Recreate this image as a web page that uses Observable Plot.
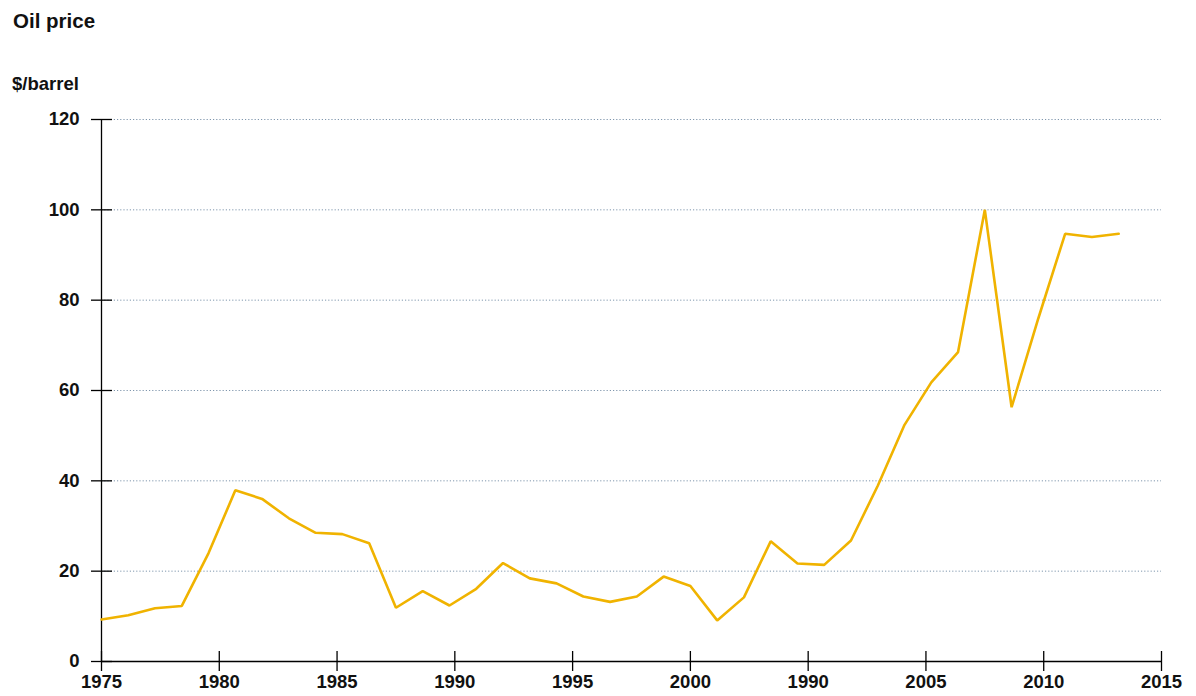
<!DOCTYPE html>
<html>
<head>
<meta charset="utf-8">
<script src="https://cdn.jsdelivr.net/npm/d3@7"></script>
<script src="https://cdn.jsdelivr.net/npm/@observablehq/plot@0.6"></script>
<style>
  html, body { margin: 0; padding: 0; background: #fff; }
  body { width: 1196px; height: 696px; position: relative; overflow: hidden; font-family: "Liberation Sans", Arial, sans-serif; }
  .title { position: absolute; left: 13px; top: 11px; font-size: 20.5px; line-height: 20px; font-weight: bold; color: #111; }
  .unit { position: absolute; left: 12px; top: 75px; font-size: 18.5px; line-height: 18px; font-weight: bold; color: #111; }
  #chart { position: absolute; left: 0; top: 100px; }
</style>
</head>
<body>
<div class="title">Oil price</div>
<div class="unit">$/barrel</div>
<div id="chart"></div>
<script>
// Data
const years = d3.range(1975, 2014);
const prices = [
  9.3, 10.25, 11.8, 12.3, 24.0, 37.9, 36.0, 31.7, 28.5, 28.2,
  26.2, 11.9, 15.6, 12.4, 16.1, 21.8, 18.4, 17.3, 14.4, 13.2,
  14.4, 18.8, 16.7, 9.1, 14.2, 26.6, 21.7, 21.4, 26.8, 38.9,
  52.4, 61.8, 68.5, 100.0, 56.3, 76.0, 94.7, 94.0, 94.7
];
const xTickLabels = ["1975", "1980", "1985", "1990", "1995", "2000", "1990", "2005", "2010", "2015"];
const yTicks = [0, 20, 40, 60, 80, 100, 120];
const gridValues = [20, 40, 60, 80, 100, 120];

const data = years.map((y, i) => ({year: y, price: prices[i]}));
const xStep = 4.4;
const xTicks = xTickLabels.map((_, i) => 1975 + i * xStep);

const plot = Plot.plot({
  width: 1196,
  height: 596,
  marginTop: 19,
  marginBottom: 35,
  marginLeft: 101,
  marginRight: 35,
  style: { fontFamily: "'Liberation Sans', Arial, sans-serif", fontSize: "18.5px", fontWeight: "bold", color: "#111", background: "transparent" },
  x: { domain: [1975, 1975 + 9 * xStep] },
  y: { domain: [0, 120] },
  marks: [
    Plot.ruleY(gridValues, { stroke: "#7f96ad", strokeWidth: 1, strokeDasharray: "1.2,2" }),
    Plot.ruleY([0], { stroke: "#000", strokeWidth: 1.3 }),
    Plot.ruleX([1975], { stroke: "#000", strokeWidth: 1.3 }),
    Plot.axisY({ ticks: yTicks, tickSize: 21, dx: 11, tickPadding: 12, fontSize: 18.5, label: null, stroke: "#000", strokeWidth: 1.3, fill: "#111", tickFormat: d => d }),
    Plot.axisX({ ticks: xTicks, tickSize: 20, dy: -10, tickPadding: 3, fontSize: 18.5, label: null, stroke: "#000", strokeWidth: 1.3, fill: "#111", tickFormat: (d, i) => xTickLabels[i] }),
    Plot.line(data, { x: "year", y: "price", stroke: "#f0b300", strokeWidth: 2.6, strokeLinejoin: "miter" })
  ]
});
document.getElementById("chart").appendChild(plot);
</script>
</body>
</html>
